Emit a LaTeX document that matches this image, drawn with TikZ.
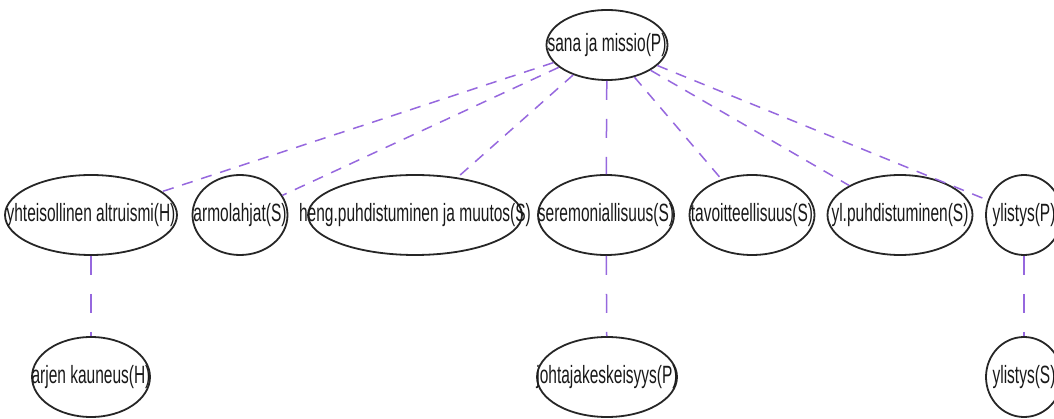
\documentclass[tikz,border=0pt]{standalone}
\usepackage{fontspec}
\usepackage{tikz}
\usetikzlibrary{shapes.geometric}
\newfontfamily\graphfont[FakeStretch=0.62]{Liberation Sans}
\newcommand{\nm}[1]{\makebox[0pt]{#1}}
\definecolor{edgepurple}{RGB}{150,104,222}
\tikzset{x=1pt, y=-1pt, every node/.style={ellipse, draw=black!85, line width=1.8pt, inner sep=0pt, minimum height=80pt, text=black!90, font=\graphfont\fontsize{25}{28}\selectfont}, link/.style={draw=edgepurple, line width=1.5pt, dash pattern=on 11pt off 9pt}, vlink/.style={link, dash pattern=on 19pt off 19pt}}

\begin{document}
\begin{tikzpicture}
	\useasboundingbox (0,0) rectangle (1054,419);
	\node[minimum width=121pt, minimum height=70pt] (Sana) at (607,45) {\nm{sana ja missio(P)}};
	\node[minimum width=172pt] (Yhteisollinen) at (91,215) {\nm{yhteisollinen altruismi(H)}};
	\node[minimum width=95pt] (Armolahjat) at (240,215) {\nm{armolahjat(S)}};
	\node[minimum width=214pt] (Heng) at (415,215) {\nm{heng.puhdistuminen ja muutos(S)}};
	\node[minimum width=136pt] (Seremoniallisuus) at (606,215) {\nm{seremoniallisuus(S)}};
	\node[minimum width=125pt] (Tavoitteellisuus) at (752,215) {\nm{tavoitteellisuus(S)}};
	\node[minimum width=145pt] (Yl puhdistuminen) at (900,215) {\nm{yl.puhdistuminen(S)}};
	\node[minimum width=76pt] (Ylistys P) at (1024,215) {\nm{ylistys(P)}};
	\node[minimum width=118pt] (Arjen) at (91,377) {\nm{arjen kauneus(H)}};
	\node[minimum width=140pt] (Johtajakeskeisyys) at (607,377) {\nm{johtajakeskeisyys(P)}};
	\node[minimum width=76pt] (Ylistys S) at (1024,377) {\nm{ylistys(S)}};
	\draw[link]
		(Sana) edge (Yhteisollinen)
		(Sana) edge (Armolahjat)
		(Sana) edge (Heng)
		(Sana) edge (Tavoitteellisuus)
		(Sana) edge (Yl puhdistuminen)
		(Sana) edge (Ylistys P);
	\draw[vlink]
		(Sana) edge (Seremoniallisuus)
		(Yhteisollinen) edge (Arjen)
		(Seremoniallisuus) edge (Johtajakeskeisyys)
		(Ylistys P) edge (Ylistys S);
\end{tikzpicture}
\end{document}
